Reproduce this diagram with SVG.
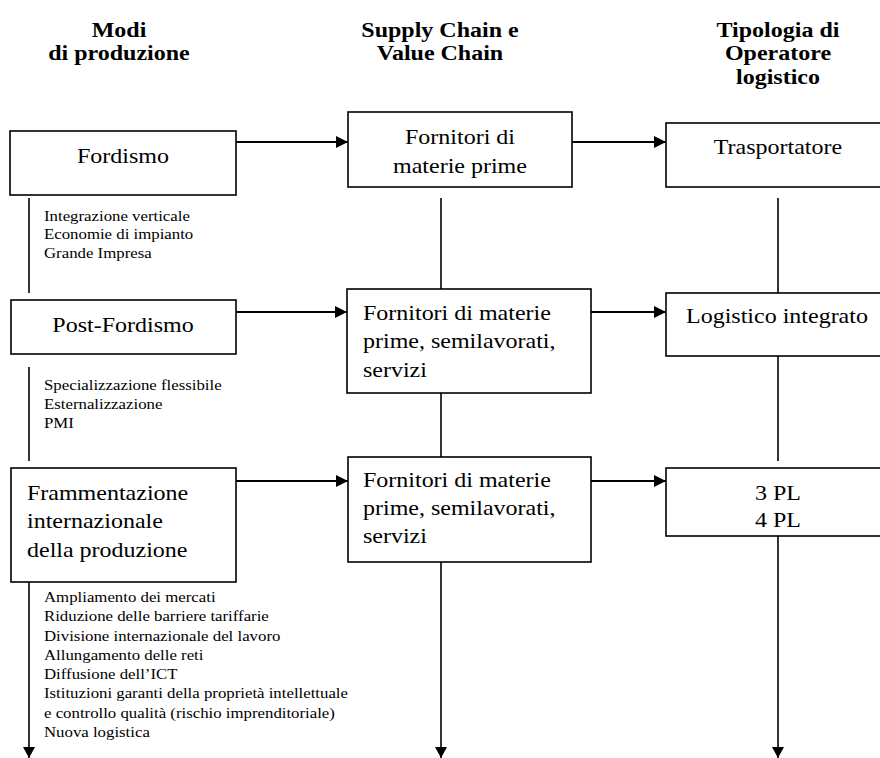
<svg xmlns="http://www.w3.org/2000/svg" width="880" height="758" viewBox="0 0 880 758">
<style>
.box{fill:#fff;stroke:#000;stroke-width:1.6}
.ln{fill:none;stroke:#000;stroke-width:1.6}
.ar{fill:none;stroke:#000;stroke-width:2}
.h{font-family:"Liberation Serif","Times New Roman",serif;font-weight:bold;font-size:20px;fill:#000;text-anchor:middle}
.t{font-family:"Liberation Serif","Times New Roman",serif;font-size:20px;fill:#000}
.c{text-anchor:middle}
.s{font-family:"Liberation Serif","Times New Roman",serif;font-size:14px;fill:#000}
</style>
<defs>
<marker id="ah" markerWidth="12" markerHeight="12" refX="12" refY="6" orient="auto" markerUnits="userSpaceOnUse">
<path d="M0,0 L12,6 L0,12 Z" fill="#000"/>
</marker>
<marker id="ad" markerWidth="11" markerHeight="12" refX="11" refY="6" orient="auto" markerUnits="userSpaceOnUse">
<path d="M0,0 L11,6 L0,12 Z" fill="#000"/>
</marker>
</defs>
<rect width="880" height="758" fill="#fff"/>

<g id="connectors">
<line class="ar" x1="236" y1="142" x2="348" y2="142" marker-end="url(#ah)"/>
<line class="ar" x1="572" y1="142" x2="666" y2="142" marker-end="url(#ah)"/>
<line class="ar" x1="236" y1="312" x2="347" y2="312" marker-end="url(#ah)"/>
<line class="ar" x1="591" y1="312" x2="666" y2="312" marker-end="url(#ah)"/>
<line class="ar" x1="236" y1="481" x2="348" y2="481" marker-end="url(#ah)"/>
<line class="ar" x1="591" y1="481" x2="666" y2="481" marker-end="url(#ah)"/>
<line class="ln" x1="29" y1="198" x2="29" y2="293"/>
<line class="ln" x1="29" y1="367" x2="29" y2="461"/>
<line class="ln" x1="29" y1="582" x2="29" y2="758" marker-end="url(#ad)"/>
<line class="ln" x1="441" y1="198" x2="441" y2="289"/>
<line class="ln" x1="441" y1="393" x2="441" y2="457"/>
<line class="ln" x1="441" y1="562" x2="441" y2="758" marker-end="url(#ad)"/>
<line class="ln" x1="778" y1="198" x2="778" y2="293"/>
<line class="ln" x1="778" y1="356" x2="778" y2="461"/>
<line class="ln" x1="778" y1="536" x2="778" y2="758" marker-end="url(#ad)"/>
</g>

<g id="n-fordismo"><rect class="box" x="10" y="131" width="226" height="64"/></g>
<g id="n-fornitori1"><rect class="box" x="348" y="112" width="224" height="75"/></g>
<g id="n-trasportatore"><rect class="box" x="666" y="123" width="220" height="64"/></g>
<g id="n-postfordismo"><rect class="box" x="11" y="300" width="225" height="54"/></g>
<g id="n-fornitori2"><rect class="box" x="347" y="289" width="244" height="104"/></g>
<g id="n-logistico"><rect class="box" x="666" y="293" width="220" height="63"/></g>
<g id="n-frammentazione"><rect class="box" x="11" y="468" width="225" height="114"/></g>
<g id="n-fornitori3"><rect class="box" x="348" y="457" width="243" height="105"/></g>
<g id="n-pl"><rect class="box" x="666" y="468" width="220" height="68"/></g>

<g id="texts" transform="scale(1.2 1)">
<text class="h" x="99.17" y="37">Modi</text>
<text class="h" x="99.17" y="60">di produzione</text>
<text class="h" x="366.67" y="37">Supply Chain e</text>
<text class="h" x="366.67" y="60">Value Chain</text>
<text class="h" x="648.33" y="37">Tipologia di</text>
<text class="h" x="648.33" y="60">Operatore</text>
<text class="h" x="648.33" y="84">logistico</text>

<text class="t c" x="102.5" y="163">Fordismo</text>
<text class="t c" x="383.33" y="144">Fornitori di</text>
<text class="t c" x="383.33" y="173">materie prime</text>
<text class="t c" x="648.33" y="154">Trasportatore</text>

<text class="t c" x="102.5" y="332">Post-Fordismo</text>
<text class="t" x="302.5" y="320">Fornitori di materie</text>
<text class="t" x="302.5" y="348.5">prime, semilavorati,</text>
<text class="t" x="302.5" y="377">servizi</text>
<text class="t c" x="647.5" y="323">Logistico integrato</text>

<text class="t" x="22.5" y="500">Frammentazione</text>
<text class="t" x="22.5" y="528.5">internazionale</text>
<text class="t" x="22.5" y="557">della produzione</text>
<text class="t" x="302.5" y="487">Fornitori di materie</text>
<text class="t" x="302.5" y="515">prime, semilavorati,</text>
<text class="t" x="302.5" y="543">servizi</text>
<text class="t c" x="648.33" y="500">3 PL</text>
<text class="t c" x="648.33" y="527">4 PL</text>

<text class="s" x="36.67" y="221">Integrazione verticale</text>
<text class="s" x="36.67" y="239.5">Economie di impianto</text>
<text class="s" x="36.67" y="258">Grande Impresa</text>

<text class="s" x="36.67" y="390">Specializzazione flessibile</text>
<text class="s" x="36.67" y="409">Esternalizzazione</text>
<text class="s" x="36.67" y="428">PMI</text>

<text class="s" x="36.67" y="602">Ampliamento dei mercati</text>
<text class="s" x="36.67" y="621.3">Riduzione delle barriere tariffarie</text>
<text class="s" x="36.67" y="640.6">Divisione internazionale del lavoro</text>
<text class="s" x="36.67" y="659.9">Allungamento delle reti</text>
<text class="s" x="36.67" y="679.2">Diffusione dell’ICT</text>
<text class="s" x="36.67" y="698.5">Istituzioni garanti della proprietà intellettuale</text>
<text class="s" x="36.67" y="717.8">e controllo qualità  (rischio imprenditoriale)</text>
<text class="s" x="36.67" y="737">Nuova logistica</text>
</g>
</svg>
